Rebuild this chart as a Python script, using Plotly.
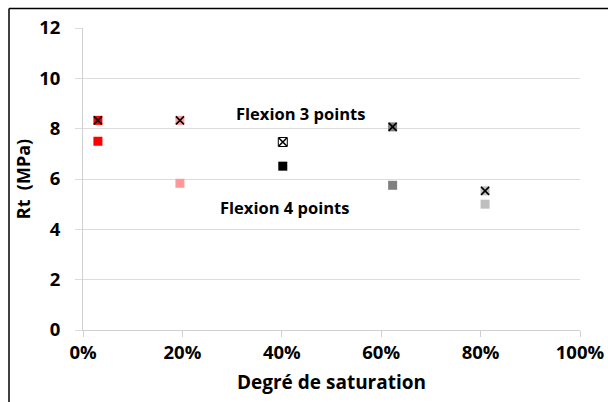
import plotly.graph_objects as go

saturation = [0.030, 0.195, 0.402, 0.623, 0.809]
flexion3 = [8.33, 8.33, 7.47, 8.07, 5.53]
flexion4 = [7.50, 5.83, 6.51, 5.75, 5.00]
fill3 = ["#FF0000", "#FFA0A0", "#FFFFFF", "#808080", "#C0C0C0"]
fill4 = ["#FF0000", "#FF9999", "#000000", "#808080", "#BFBFBF"]
xticks = [0, 0.2, 0.4, 0.6, 0.8, 1.0]
xticklabels = ["0%", "20%", "40%", "60%", "80%", "100%"]
yticks = [0, 2, 4, 6, 8, 10, 12]

FONT = "Open Sans"

fig = go.Figure()
fig.add_trace(go.Scatter(x=saturation, y=flexion4, mode="markers", name="Flexion 4 points",
                         marker=dict(symbol="square", size=9, color=fill4, line=dict(width=0))))
fig.add_trace(go.Scatter(x=saturation, y=flexion3, mode="markers", name="Flexion 3 points",
                         marker=dict(symbol="square", size=9, color=fill3,
                                     line=dict(width=[0, 0, 1, 0, 0], color="#000000"))))
fig.add_trace(go.Scatter(x=saturation, y=flexion3, mode="markers", showlegend=False,
                         marker=dict(symbol="x-thin", size=8, color="#000000",
                                     line=dict(width=1.6, color="#000000"))))

fig.add_annotation(x=0.437, y=8.6, text="<b>Flexion 3 points</b>", showarrow=False,
                   font=dict(family=FONT, size=16.5, color="#000000"))
fig.add_annotation(x=0.405, y=4.87, text="<b>Flexion 4 points</b>", showarrow=False,
                   font=dict(family=FONT, size=16.5, color="#000000"))

# outer border (top and left)
l, t, w, h = 83, 27.5, 497, 302.5
x0 = (9 - l) / w
y1 = 1 + (t - 8) / h
fig.add_shape(type="line", xref="paper", yref="paper", x0=x0, x1=(608 - l) / w, y0=y1, y1=y1,
              line=dict(color="#000000", width=1.5))
fig.add_shape(type="line", xref="paper", yref="paper", x0=x0, x1=x0, y0=y1, y1=-(402 - 330) / h,
              line=dict(color="#000000", width=1.5))

fig.update_layout(
    width=608, height=402,
    margin=dict(l=83, r=28, t=27.5, b=72, autoexpand=False),
    paper_bgcolor="white", plot_bgcolor="white",
    showlegend=False,
    font=dict(family=FONT, color="#000000"),
    xaxis=dict(range=[0, 1.0], tickvals=xticks, ticktext=[f"<b>{s}</b>" for s in xticklabels],
               showgrid=False, zeroline=False, showline=True, linecolor="#D0D0D0", linewidth=1,
               ticks="outside", ticklen=6, tickcolor="#D0D0D0",
               tickfont=dict(family=FONT, size=18.5, color="#000000"),
               title=dict(text="<b>Degré de saturation</b>", font=dict(family=FONT, size=19), standoff=12)),
    yaxis=dict(range=[0, 12], tickvals=yticks, ticktext=[f"<b>{v}</b>" for v in yticks],
               showgrid=True, gridcolor="#DCDCDC", gridwidth=1.3, zeroline=False,
               showline=True, linecolor="#D0D0D0", linewidth=1,
               ticks="outside", ticklen=7, tickcolor="#DCDCDC",
               tickfont=dict(family=FONT, size=18.5, color="#000000"), ticklabelstandoff=11,
               title=dict(text="<b>Rt  (MPa)</b>", font=dict(family=FONT, size=18), standoff=3)),
)

fig.write_html("out.html")
